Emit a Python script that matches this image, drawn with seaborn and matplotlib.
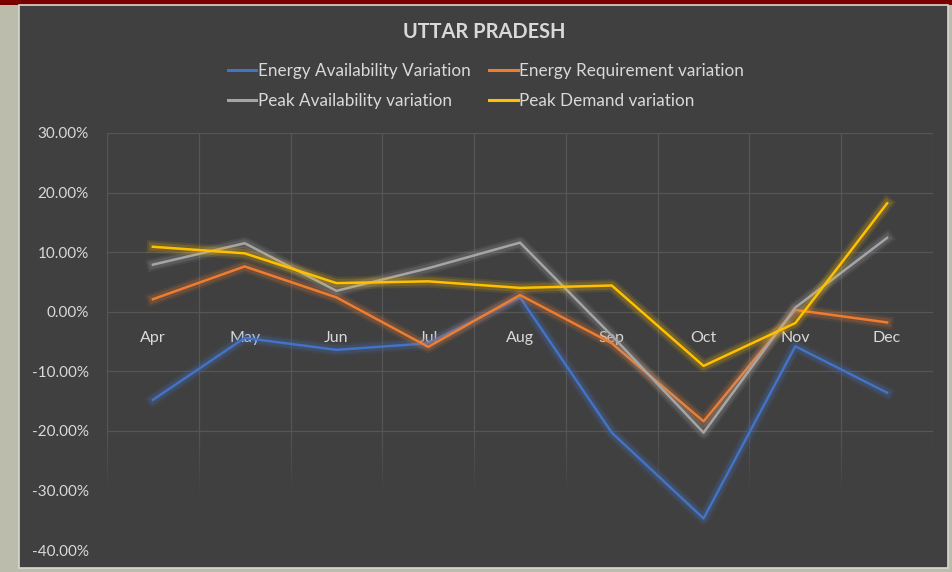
import numpy as np
import pandas as pd
import matplotlib
matplotlib.use("Agg")
import matplotlib.pyplot as plt
import matplotlib.patheffects as pe
from matplotlib.patches import Rectangle
from matplotlib.ticker import FuncFormatter
import seaborn as sns

# data (percent variation by month)
months = ["Apr", "May", "Jun", "Jul", "Aug", "Sep", "Oct", "Nov", "Dec"]
energy_avail = [-14.8, -4.4, -6.4, -5.3, 2.4, -20.3, -34.7, -5.8, -13.6]
energy_req = [2.1, 7.6, 2.4, -5.9, 2.8, -5.3, -18.4, 0.3, -1.8]
peak_avail = [7.9, 11.5, 3.5, 7.3, 11.6, -4.0, -20.3, 0.7, 12.4]
peak_demand = [10.9, 9.8, 4.8, 5.1, 4.0, 4.4, -9.1, -1.9, 18.2]

series_names = ["Energy Availability Variation", "Energy Requirement variation",
                "Peak Availability variation", "Peak Demand variation"]
series_colors = ["#4472C4", "#ED7D31", "#A5A5A5", "#FFC000"]

df = pd.DataFrame({
    "month": months * 4,
    "value": energy_avail + energy_req + peak_avail + peak_demand,
    "series": np.repeat(series_names, len(months)),
})

W, H = 952, 572
fig = plt.figure(figsize=(W / 100, H / 100), dpi=100)
fig.patch.set_facecolor("#bcbcac")

# frame: red band on top, dark chart panel
fig.patches.append(Rectangle((0, 1 - 5 / H), 1, 5 / H, transform=fig.transFigure,
                             facecolor="#7a0000", edgecolor="none", zorder=-10))
fig.patches.append(Rectangle((19 / W, 4 / H), 929 / W, 563 / H, transform=fig.transFigure,
                             facecolor="#404040", edgecolor="#d8d8d0", linewidth=1.2, zorder=-10))

text_col = "#d9d9d9"
grid_col = "#565656"
font = ["Lato", "DejaVu Sans"]

ax = fig.add_axes([107 / W, 1 - 550 / H, (933 - 107) / W, (550 - 133) / H])
ax.set_facecolor("none")
ax.set_zorder(2)

yticks = np.arange(-40, 31, 10)
bounds = np.arange(-0.5, len(months), 1)

# gridlines, fading out below -20%
ax.hlines(yticks[yticks >= -20], -0.5, len(months) - 0.5, color=grid_col, linewidth=0.9, zorder=0)
ax.vlines(bounds, -20, 30, color=grid_col, linewidth=0.9, zorder=0)
fade = np.linspace(-20, -31, 12)
for i in range(len(fade) - 1):
    ax.vlines(bounds, fade[i + 1], fade[i], color=grid_col, linewidth=0.9,
              alpha=1 - (i + 1) / len(fade), zorder=0)

sns.lineplot(data=df, x="month", y="value", hue="series", hue_order=series_names,
             palette=series_colors, sort=False, linewidth=1.8, ax=ax, legend=False)

for line, c in zip(ax.lines, series_colors):
    line.set_path_effects([
        pe.Stroke(linewidth=9, foreground=c, alpha=0.10),
        pe.Stroke(linewidth=6, foreground=c, alpha=0.18),
        pe.Normal(),
    ])

ax.set_xlim(-0.5, len(months) - 0.5)
ax.set_ylim(-40, 30)
ax.set_yticks(yticks)
ax.yaxis.set_major_formatter(FuncFormatter(lambda v, p: f"{v:.2f}%"))
ax.grid(False)

ax.spines["bottom"].set_position(("data", 0))
for s in ax.spines.values():
    s.set_visible(False)
ax.tick_params(axis="both", which="both", length=0)
ax.tick_params(axis="x", pad=14, labelsize=11.5, colors=text_col)
ax.tick_params(axis="y", pad=13, labelsize=11, colors=text_col)
for lbl in ax.get_xticklabels() + ax.get_yticklabels():
    lbl.set_family(font)
ax.set_xlabel("")
ax.set_ylabel("")

fig.text(484 / W, 1 - 32 / H, "UTTAR PRADESH", ha="center", va="center",
         fontsize=14.4, fontweight="bold", color=text_col, family=font)

# legend filled column-wise: two rows, Energy pair on top
order = [0, 2, 1, 3]
handles = [plt.Line2D([], [], color=series_colors[i], linewidth=2.2) for i in order]
labels = [series_names[i] for i in order]
leg = fig.legend(handles, labels, ncol=2, loc="center", bbox_to_anchor=(486 / W, 1 - 86 / H),
                 frameon=False, handlelength=1.65, handletextpad=0.1, columnspacing=1.1,
                 labelspacing=0.8, prop={"family": font, "size": 12.3})
for t in leg.get_texts():
    t.set_color(text_col)

fig.savefig("out.png", dpi=100, facecolor=fig.get_facecolor())
